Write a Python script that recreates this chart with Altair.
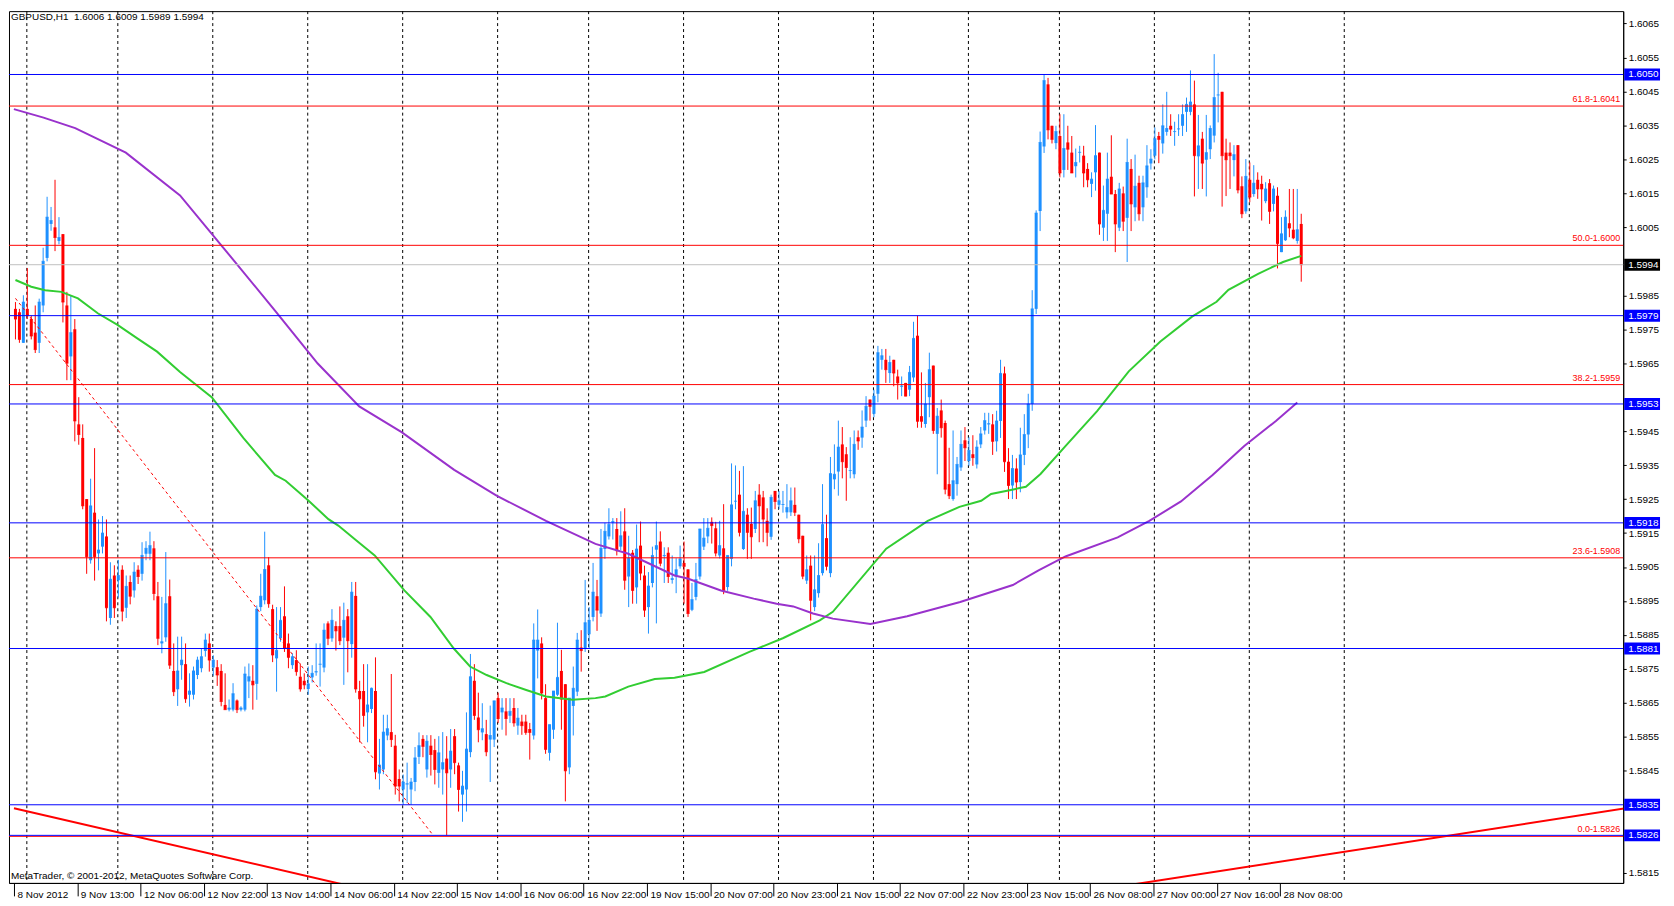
import json
import altair as alt
import pandas as pd

# ---------------- data ----------------
opens = [
    1.5981, 1.5980, 1.5971, 1.5981, 1.5978, 1.5974, 1.5971, 1.5982, 1.5996, 1.6006,
    1.6005, 1.6001, 1.6003, 1.5982, 1.5967, 1.5975, 1.5947, 1.5943, 1.5925, 1.5907,
    1.5921, 1.5909, 1.5911, 1.5914, 1.5890, 1.59025, 1.59011, 1.59042, 1.5893, 1.59006,
    1.58981, 1.59042, 1.5903, 1.59089, 1.59089, 1.59105, 1.58964, 1.58825, 1.58843, 1.58964,
    1.58744, 1.5869, 1.58761, 1.58764, 1.58674, 1.58674, 1.58732, 1.58752, 1.58803, 1.58825,
    1.58754, 1.58755, 1.58744, 1.58644, 1.5863, 1.5863, 1.58657, 1.5863, 1.5863, 1.58713,
    1.58715, 1.58706, 1.58932, 1.58952, 1.59055, 1.58926, 1.58781, 1.5884, 1.58905, 1.58825,
    1.58761, 1.58776, 1.58727, 1.58715, 1.58691, 1.58725, 1.5874, 1.58763, 1.58754, 1.58884,
    1.5884, 1.58876, 1.58876, 1.58842, 1.58905, 1.58823, 1.58965, 1.58685, 1.58685, 1.58622,
    1.58632, 1.58685, 1.58442, 1.58454, 1.58554, 1.58564, 1.58524, 1.58426, 1.58395, 1.5841,
    1.58395, 1.58417, 1.58491, 1.58544, 1.58454, 1.58524, 1.58511, 1.58444, 1.58454, 1.58486,
    1.58454, 1.58552, 1.58466, 1.5838, 1.58395, 1.58505, 1.58715, 1.58607, 1.58563, 1.58558,
    1.58542, 1.58542, 1.58664, 1.58622, 1.58625, 1.58612, 1.58635, 1.58583, 1.58595, 1.58595,
    1.58573, 1.58554, 1.58804, 1.58825, 1.58664, 1.58503, 1.58571, 1.58674, 1.58744, 1.58705,
    1.5846, 1.58641, 1.58683, 1.58813, 1.58809, 1.58852, 1.58903, 1.58964, 1.58913, 1.59103,
    1.5914, 1.59181, 1.59162, 1.5911, 1.59155, 1.59022, 1.59092, 1.5899, 1.59113, 1.59025,
    1.58932, 1.59003, 1.59101, 1.59125, 1.59082, 1.59092, 1.59012, 1.59022, 1.59052, 1.59062,
    1.59043, 1.58924, 1.58962, 1.59022, 1.5911, 1.5914, 1.59183, 1.59164, 1.59084, 1.59105,
    1.58991, 1.59074, 1.59243, 1.59263, 1.59103, 1.59204, 1.59177, 1.59162, 1.59263, 1.59255,
    1.59186, 1.59139, 1.59274, 1.59233, 1.59233, 1.59211, 1.59211, 1.59233, 1.59204, 1.59142,
    1.5901, 1.59054, 1.58932, 1.58973, 1.59032, 1.59135, 1.59032, 1.59308, 1.59331, 1.59411,
    1.59382, 1.59333, 1.59323, 1.59432, 1.59431, 1.59481, 1.59543, 1.59501, 1.5956, 1.5966,
    1.5966, 1.59621, 1.5966, 1.59611, 1.59581, 1.59592, 1.59572, 1.59608, 1.59731, 1.59494,
    1.59471, 1.5955, 1.59643, 1.59442, 1.59511, 1.59474, 1.59294, 1.5925, 1.59294, 1.59343,
    1.59423, 1.59362, 1.59382, 1.59352, 1.59411, 1.59452, 1.5947, 1.5947, 1.5942, 1.5948,
    1.5962, 1.5936, 1.5929, 1.5934, 1.5930, 1.5938, 1.5944, 1.5953, 1.5981, 1.60098,
    1.60288, 1.60471, 1.60349, 1.60298, 1.60319, 1.60219, 1.603, 1.6027, 1.6023, 1.6027,
    1.60261, 1.60222, 1.60178, 1.60212, 1.6027, 1.60049, 1.6009, 1.60199, 1.60148, 1.60049,
    1.6015, 1.60078, 1.60222, 1.60109, 1.60181, 1.60109, 1.60168, 1.60238, 1.60261, 1.60319,
    1.60297, 1.60331, 1.60349, 1.60331, 1.60339, 1.60349, 1.6039, 1.6039, 1.60412, 1.60259,
    1.60311, 1.60249, 1.6028, 1.6032, 1.60439, 1.60449, 1.6027, 1.6027, 1.60248, 1.60292,
    1.60171, 1.60097, 1.6019, 1.60148, 1.6019, 1.60178, 1.60127, 1.6018, 1.60119, 1.60143,
    1.59977, 1.60012, 1.60062, 1.60043, 1.6001, 1.6006,
]
highs = [
    1.5983, 1.5981, 1.5985, 1.5993, 1.5979, 1.5982, 1.5984, 1.5999, 1.6014, 1.6011,
    1.6019, 1.6008, 1.6003, 1.5986, 1.5985, 1.5978, 1.5955, 1.5947, 1.5925, 1.5931,
    1.5940, 1.5919, 1.5920, 1.5919, 1.59064, 1.59055, 1.59071, 1.59055, 1.59025, 1.59025,
    1.59064, 1.59055, 1.59123, 1.59126, 1.59154, 1.59126, 1.59006, 1.58962, 1.59094, 1.59013,
    1.58825, 1.58845, 1.58845, 1.58825, 1.58737, 1.58757, 1.58786, 1.5881, 1.58854, 1.58854,
    1.5879, 1.58776, 1.58764, 1.58737, 1.5866, 1.58708, 1.5866, 1.5864, 1.58757, 1.58766,
    1.58761, 1.58937, 1.5903, 1.59154, 1.59079, 1.58939, 1.58932, 1.58932, 1.58993, 1.58854,
    1.58796, 1.58805, 1.58766, 1.58737, 1.58757, 1.58761, 1.58825, 1.58825, 1.58884, 1.5889,
    1.58926, 1.5889, 1.58934, 1.58945, 1.58926, 1.59006, 1.59006, 1.58715, 1.58764, 1.58764,
    1.58695, 1.58784, 1.58544, 1.58615, 1.58615, 1.58735, 1.58556, 1.58454, 1.58439, 1.58474,
    1.58429, 1.5852, 1.58563, 1.58555, 1.58555, 1.58555, 1.58544, 1.58552, 1.58564, 1.58552,
    1.58573, 1.58573, 1.58474, 1.5845, 1.58622, 1.58794, 1.58764, 1.5868, 1.58649, 1.586,
    1.58642, 1.58656, 1.5868, 1.58664, 1.58664, 1.58664, 1.58664, 1.58635, 1.58615, 1.58615,
    1.58591, 1.58884, 1.58925, 1.58843, 1.58705, 1.58586, 1.58685, 1.58886, 1.58806, 1.58705,
    1.58664, 1.58757, 1.58856, 1.58864, 1.59012, 1.58932, 1.59062, 1.59012, 1.59162, 1.5918,
    1.59223, 1.59194, 1.59194, 1.59214, 1.59223, 1.59142, 1.591, 1.59175, 1.59184, 1.59054,
    1.59035, 1.5911, 1.59184, 1.59155, 1.59108, 1.59108, 1.59084, 1.59076, 1.59113, 1.59125,
    1.59043, 1.59003, 1.59062, 1.59162, 1.59194, 1.59194, 1.59196, 1.59183, 1.59186, 1.59235,
    1.59084, 1.59355, 1.59349, 1.59333, 1.59347, 1.59223, 1.59225, 1.59274, 1.59294, 1.59274,
    1.59223, 1.59263, 1.59274, 1.59274, 1.59274, 1.59294, 1.59284, 1.59284, 1.59204, 1.59142,
    1.59084, 1.59084, 1.59084, 1.5912, 1.59294, 1.59204, 1.59374, 1.59411, 1.59481, 1.59462,
    1.59403, 1.59432, 1.59452, 1.59452, 1.59511, 1.59553, 1.59543, 1.59572, 1.59701, 1.59692,
    1.59692, 1.59672, 1.5966, 1.59631, 1.59611, 1.59592, 1.59642, 1.59772, 1.5979, 1.59623,
    1.59592, 1.59681, 1.59643, 1.59518, 1.59543, 1.59481, 1.59401, 1.59452, 1.59374, 1.59452,
    1.59462, 1.59432, 1.59438, 1.59423, 1.59462, 1.59504, 1.59504, 1.5950, 1.5951, 1.5966,
    1.5964, 1.5940, 1.5938, 1.5937, 1.5946, 1.5950, 1.5956, 1.59865, 1.6010, 1.60332,
    1.6050, 1.6049, 1.60349, 1.60349, 1.60383, 1.60383, 1.60349, 1.60319, 1.60282, 1.6029,
    1.6029, 1.60239, 1.60212, 1.60351, 1.6027, 1.60173, 1.6027, 1.60321, 1.6016, 1.60181,
    1.6017, 1.60311, 1.60251, 1.60264, 1.60202, 1.60202, 1.60292, 1.6028, 1.60344, 1.60331,
    1.60412, 1.60449, 1.60383, 1.60361, 1.60383, 1.60412, 1.60432, 1.60512, 1.60482, 1.60381,
    1.60331, 1.60381, 1.6035, 1.6056, 1.60505, 1.60449, 1.60311, 1.603, 1.60292, 1.60292,
    1.602, 1.60251, 1.60241, 1.60233, 1.60212, 1.60202, 1.60183, 1.60192, 1.60173, 1.60168,
    1.6008, 1.601, 1.60163, 1.60163, 1.60163, 1.6009,
]
lows = [
    1.5972, 1.5971, 1.5971, 1.5978, 1.5972, 1.5968, 1.5968, 1.5980, 1.5995, 1.6004,
    1.5998, 1.6000, 1.5977, 1.5960, 1.5960, 1.5942, 1.5941, 1.5922, 1.5903, 1.5906,
    1.5901, 1.5904, 1.5909, 1.5889, 1.5888, 1.5890, 1.5896, 1.5889, 1.5890, 1.5894,
    1.5896, 1.5900, 1.5901, 1.5907, 1.5907, 1.58952, 1.5882, 1.58796, 1.5883, 1.5875,
    1.5867, 1.58641, 1.58718, 1.5865, 1.58639, 1.5866, 1.5872, 1.5874, 1.58786, 1.58742,
    1.5873, 1.5870, 1.5864, 1.5863, 1.58625, 1.58625, 1.5862, 1.58625, 1.58625, 1.58664,
    1.5863, 1.58659, 1.5892, 1.5894, 1.5893, 1.5877, 1.58683, 1.5883, 1.5880, 1.58752,
    1.5875, 1.5873, 1.58683, 1.5869, 1.58674, 1.5871, 1.5873, 1.58698, 1.5874, 1.5882,
    1.5883, 1.58804, 1.5882, 1.58703, 1.5874, 1.58783, 1.5868, 1.58534, 1.5858, 1.58534,
    1.5862, 1.58425, 1.58395, 1.5844, 1.5854, 1.5852, 1.5838, 1.5836, 1.5835, 1.58355,
    1.5835, 1.5839, 1.5847, 1.5849, 1.5843, 1.58436, 1.5841, 1.5840, 1.5838, 1.5826,
    1.5840, 1.5844, 1.5833, 1.5830, 1.5833, 1.5849, 1.5860, 1.58534, 1.5854, 1.58493,
    1.58417, 1.5852, 1.58591, 1.58571, 1.58554, 1.58591, 1.5858, 1.58556, 1.58556, 1.58556,
    1.58483, 1.58542, 1.58722, 1.5866, 1.5850, 1.5848, 1.58544, 1.5867, 1.58571, 1.5836,
    1.5844, 1.58554, 1.5867, 1.58742, 1.5880, 1.5881, 1.5889, 1.58862, 1.58903, 1.59074,
    1.59131, 1.59131, 1.59084, 1.5910, 1.58983, 1.58932, 1.58942, 1.58942, 1.59011, 1.58903,
    1.58854, 1.5899, 1.58884, 1.59052, 1.59003, 1.59003, 1.59001, 1.58973, 1.59045, 1.58942,
    1.58903, 1.5892, 1.58952, 1.59013, 1.5910, 1.5912, 1.59119, 1.59081, 1.59075, 1.5897,
    1.5898, 1.59052, 1.5922, 1.5914, 1.5910, 1.59074, 1.59074, 1.5915, 1.59123, 1.59123,
    1.59111, 1.5913, 1.5922, 1.5922, 1.5921, 1.59193, 1.5920, 1.5920, 1.5912, 1.59014,
    1.5900, 1.58893, 1.5892, 1.5896, 1.59025, 1.5904, 1.5902, 1.59279, 1.5926, 1.59311,
    1.59245, 1.59311, 1.59311, 1.59395, 1.59401, 1.59462, 1.59481, 1.59491, 1.59535, 1.59631,
    1.59592, 1.59592, 1.59582, 1.59543, 1.59553, 1.59553, 1.59553, 1.59595, 1.5946, 1.5946,
    1.5946, 1.59491, 1.59442, 1.59323, 1.59431, 1.59264, 1.5925, 1.59245, 1.5926, 1.59333,
    1.59362, 1.59348, 1.59348, 1.5934, 1.5940, 1.5944, 1.59442, 1.5938, 1.5939, 1.5943,
    1.5933, 1.5925, 1.5925, 1.5925, 1.5927, 1.5935, 1.5940, 1.5951, 1.59795, 1.60039,
    1.60269, 1.60309, 1.60297, 1.6028, 1.60197, 1.60197, 1.60219, 1.6021, 1.60197, 1.60241,
    1.60168, 1.60168, 1.60139, 1.60158, 1.60028, 1.6001, 1.6001, 1.60148, 1.59977, 1.60039,
    1.60039, 1.59948, 1.60039, 1.60068, 1.6007, 1.60068, 1.60137, 1.6022, 1.6025, 1.60239,
    1.60267, 1.6032, 1.60319, 1.6029, 1.60319, 1.60319, 1.60331, 1.6038, 1.60141, 1.60163,
    1.60163, 1.60141, 1.60251, 1.603, 1.60359, 1.60111, 1.60142, 1.60163, 1.602, 1.6015,
    1.60077, 1.6009, 1.60124, 1.6014, 1.60134, 1.6007, 1.60121, 1.6006, 1.60097, 1.59929,
    1.59977, 1.6001, 1.60021, 1.60015, 1.60002, 1.5989,
]
closes = [
    1.5978, 1.5972, 1.5983, 1.5979, 1.5973, 1.5969, 1.5983, 1.5995, 1.6008, 1.6007,
    1.6002, 1.6002, 1.5983, 1.5965, 1.5974, 1.5948, 1.5944, 1.5923, 1.5908, 1.5923,
    1.5908, 1.5910, 1.5915, 1.5893, 1.59014, 1.5893, 1.59025, 1.5892, 1.58993, 1.58964,
    1.59035, 1.59022, 1.59084, 1.59105, 1.59113, 1.58972, 1.5884, 1.5883, 1.58942, 1.58761,
    1.58683, 1.58744, 1.58776, 1.58662, 1.58685, 1.58744, 1.58776, 1.58786, 1.58835, 1.58776,
    1.58776, 1.58732, 1.58654, 1.5863, 1.58635, 1.58677, 1.5863, 1.58635, 1.58735, 1.58727,
    1.58703, 1.58926, 1.58964, 1.59043, 1.58942, 1.58791, 1.58805, 1.58893, 1.5881, 1.58784,
    1.58786, 1.58742, 1.58691, 1.58703, 1.58706, 1.58737, 1.58742, 1.58764, 1.58864, 1.5884,
    1.58893, 1.58862, 1.58833, 1.58893, 1.58833, 1.58976, 1.58691, 1.58662, 1.58613, 1.58644,
    1.58693, 1.58447, 1.58467, 1.58564, 1.58574, 1.58542, 1.58405, 1.58405, 1.58417, 1.58412,
    1.58417, 1.58488, 1.58524, 1.58522, 1.58537, 1.58498, 1.58454, 1.58503, 1.58474, 1.58444,
    1.58508, 1.58474, 1.58395, 1.58405, 1.58514, 1.58727, 1.58613, 1.58571, 1.58574, 1.58506,
    1.58554, 1.58656, 1.58604, 1.58635, 1.58604, 1.58625, 1.58591, 1.58605, 1.58583, 1.58563,
    1.58563, 1.58835, 1.58835, 1.58679, 1.58513, 1.58586, 1.58685, 1.58725, 1.58661, 1.5845,
    1.58664, 1.58693, 1.58835, 1.58804, 1.58886, 1.58893, 1.58976, 1.58923, 1.59105, 1.59155,
    1.59175, 1.59184, 1.59098, 1.59142, 1.59011, 1.59076, 1.58981, 1.59103, 1.59032, 1.58923,
    1.58994, 1.59084, 1.59113, 1.59061, 1.59084, 1.59022, 1.59016, 1.59042, 1.59074, 1.59052,
    1.58913, 1.58954, 1.59013, 1.59162, 1.59135, 1.59164, 1.59172, 1.59091, 1.59113, 1.58981,
    1.59084, 1.59233, 1.59244, 1.59152, 1.59214, 1.59152, 1.59139, 1.59245, 1.5923, 1.59191,
    1.59152, 1.59255, 1.59243, 1.59245, 1.59234, 1.59225, 1.59245, 1.59211, 1.59133, 1.59023,
    1.59042, 1.58952, 1.58983, 1.59025, 1.59175, 1.59052, 1.59325, 1.59323, 1.59403, 1.5936,
    1.59343, 1.59334, 1.59411, 1.59421, 1.59462, 1.59523, 1.59523, 1.59553, 1.59681, 1.59672,
    1.59631, 1.59652, 1.59621, 1.59592, 1.59583, 1.59553, 1.59623, 1.59723, 1.59479, 1.59479,
    1.5953, 1.59631, 1.59452, 1.59494, 1.5946, 1.59279, 1.5926, 1.59304, 1.59352, 1.59411,
    1.59401, 1.59393, 1.59372, 1.59403, 1.59442, 1.59481, 1.59472, 1.5942, 1.5948, 1.5962,
    1.5936, 1.5929, 1.5934, 1.5930, 1.5938, 1.5944, 1.5953, 1.5981, 1.60092, 1.6030,
    1.60482, 1.60337, 1.60309, 1.60332, 1.6021, 1.60282, 1.6028, 1.6021, 1.60241, 1.60271,
    1.6021, 1.6019, 1.60192, 1.60261, 1.6006, 1.601, 1.60192, 1.60148, 1.6006, 1.60163,
    1.60068, 1.60241, 1.60119, 1.60171, 1.6009, 1.60181, 1.60231, 1.60251, 1.60311, 1.60309,
    1.60349, 1.60341, 1.60339, 1.60332, 1.6034, 1.60382, 1.60412, 1.60419, 1.60261, 1.6029,
    1.60239, 1.6027, 1.60341, 1.60432, 1.6044, 1.60261, 1.60249, 1.60261, 1.60264, 1.6016,
    1.6009, 1.602, 1.60139, 1.6018, 1.60163, 1.60163, 1.60163, 1.60097, 1.60163, 1.60002,
    1.60031, 1.6008, 1.60048, 1.60019, 1.60043, 1.5994,
]

date_labels = [
    "8 Nov 2012", "9 Nov 13:00", "12 Nov 06:00", "12 Nov 22:00", "13 Nov 14:00",
    "14 Nov 06:00", "14 Nov 22:00", "15 Nov 14:00", "16 Nov 06:00", "16 Nov 22:00",
    "19 Nov 15:00", "20 Nov 07:00", "20 Nov 23:00", "21 Nov 15:00", "22 Nov 07:00",
    "22 Nov 23:00", "23 Nov 15:00", "26 Nov 08:00", "27 Nov 00:00", "27 Nov 16:00",
    "28 Nov 08:00",
]
day_start_bars = [3, 26, 50, 74, 98, 122, 145, 169, 193, 217, 241, 264, 288, 312, 336]

green_bars = [0, 4, 7.5, 11.6, 15.8, 20.8, 25.8, 30.8, 35.8, 41.6, 49.6, 57.6, 65.6, 68.3,
              74.1, 79.1, 81.6, 86.1, 90.8, 98.3, 104.9, 110.8, 114.9, 119.1, 124.1, 129.1,
              134.1, 140.8, 146.6, 149.1, 154.9, 161.6, 166.6, 174.1, 185.5, 194.1, 203.3,
              206.6, 220.1, 230.6, 238.6, 244.1, 246.6, 251.6, 255.4, 259.1, 265.4, 273.4,
              281.4, 289.4, 297.4, 303.6, 306.6, 314.1, 320.4, 325]
green_vals = [1.59895, 1.59875, 1.59865, 1.5986, 1.59841, 1.59797, 1.59763, 1.59723, 1.59684,
              1.59624, 1.5955, 1.5943, 1.59321, 1.59304, 1.59245, 1.59191, 1.59172, 1.59129,
              1.59084, 1.58981, 1.58903, 1.5881, 1.58757, 1.58732, 1.58708, 1.58688, 1.58669,
              1.58659, 1.58664, 1.58669, 1.58698, 1.5872, 1.58724, 1.58741, 1.588, 1.58841,
              1.58893, 1.58918, 1.59104, 1.59186, 1.59227, 1.59245, 1.59265, 1.59277, 1.59286,
              1.59324, 1.59406, 1.59509, 1.59626, 1.59714, 1.59787, 1.59831, 1.59866, 1.59913,
              1.59948, 1.59966]
purple_bars = [-0.4, 7.1, 15.1, 27.9, 41.6, 52.4, 65.6, 76.4, 86.9, 97.6, 110.9, 121.6, 134.1,
               146.6, 154.9, 166.6, 169.9, 178.3, 186.6, 192.4, 196.6, 201.6, 206.6, 216.1,
               225.4, 238.8, 252.1, 258.6, 265.4, 278.6, 286.6, 294.6, 302.6, 310.6, 318.6, 324]
purple_vals = [1.60398, 1.60373, 1.60342, 1.6027, 1.60144, 1.59992, 1.59805, 1.59649, 1.59523,
               1.59447, 1.59336, 1.5926, 1.59186, 1.59118, 1.59089, 1.59025, 1.59016, 1.58981,
               1.58957, 1.58942, 1.58934, 1.58913, 1.58898, 1.58882, 1.58905, 1.58947, 1.58997,
               1.5904, 1.59081, 1.59137, 1.59186, 1.59243, 1.59321, 1.59406, 1.5948, 1.59534]

blue_levels = [1.6050, 1.5979, 1.5953, 1.5918, 1.5881, 1.5835, 1.5826]
fib_levels = [1.6041, 1.6000, 1.5959, 1.5908, 1.5826]
fib_names = ["61.8", "50.0", "38.2", "23.6", "0.0"]
bid_price = 1.5994

fib_trend_bars = [0, 105.6]
fib_trend_vals = [1.59841, 1.5826]
down_line_bars = [-0.375, 100]
down_line_vals = [1.5834, 1.58069]
up_line_bars = [270, 410]
up_line_vals = [1.58093, 1.58345]

all_price_ticks = [round(1.5815 + 0.001 * k, 4) for k in range(26)]

title_text = "GBPUSD,H1\u00a0\u00a01.6006 1.6009 1.5989 1.5994"
copy_text = "MetaTrader, \u00a9 2001-2012, MetaQuotes Software Corp."

# ---------------- layout ----------------
W, H = 1622, 876
X_DOM = [-0.375, -0.375 + W / 4.0]
Y_DOM = [1.581199, 1.606865]
FONT = "Liberation Sans"
BLUE, RED = "#1E90FF", "#FF0000"

# axis labels that sit under a price box are not drawn (as in the terminal)
box_levels = blue_levels + [bid_price]
price_ticks = [t for t in all_price_ticks
               if all(abs(t - b) > 0.00025 for b in box_levels)]

xs = alt.Scale(domain=X_DOM, nice=False, zero=False)
ys = alt.Scale(domain=Y_DOM, nice=False, zero=False)

candles = pd.DataFrame({"i": list(range(len(opens))), "open": opens, "high": highs,
                        "low": lows, "close": closes})
candles["col"] = [BLUE if c >= o else RED for o, c in zip(opens, closes)]

label_expr = json.dumps(date_labels) + "[round((datum.value + 0.375) / 16)]"
x_axis = alt.Axis(values=[16 * k - 0.375 for k in range(len(date_labels))],
                  labelExpr=label_expr, title=None, grid=False, orient="bottom",
                  tickSize=13, tickColor="black", domainColor="black", labelAlign="left",
                  labelBaseline="top", labelPadding=-6, labelOffset=3, labelOverlap=False,
                  labelFlush=False, labelBound=False, labelFont=FONT, labelFontSize=10,
                  labelColor="black")
y_axis = alt.Axis(values=price_ticks, format=".4f", title=None, grid=False, orient="right",
                  tickSize=3, tickColor="black", domainColor="black", labelPadding=2,
                  labelOverlap=False, labelFlush=False, labelBound=False, labelFont=FONT,
                  labelFontSize=10, labelColor="black", labelAlign="left")


def X(field):
    return alt.X(field, scale=xs, axis=x_axis)


def Y(field):
    return alt.Y(field, scale=ys, axis=y_axis)


# vertical dashed grid (day starts)
grid = alt.Chart(pd.DataFrame({"b": [b - 0.125 for b in day_start_bars]})).mark_rule(
    color="black", strokeDash=[3, 3], strokeWidth=1
).encode(x=X("b:Q"))

# candles
wicks = alt.Chart(candles).mark_rule(strokeWidth=1).encode(
    x=X("i:Q"), y=Y("low:Q"), y2="high:Q", color=alt.Color("col:N", scale=None))
bodies = alt.Chart(candles).mark_bar(size=3).encode(
    x=X("i:Q"), y=Y("open:Q"), y2="close:Q", color=alt.Color("col:N", scale=None))
dojis = alt.Chart(candles).mark_tick(orient="horizontal", size=3, thickness=1).encode(
    x=X("i:Q"), y=Y("close:Q"), color=alt.Color("col:N", scale=None))

# moving averages
green = alt.Chart(pd.DataFrame({"b": green_bars, "v": green_vals})).mark_line(
    color="#32CD32", strokeWidth=2, clip=True).encode(x=X("b:Q"), y=Y("v:Q"))
purple = alt.Chart(pd.DataFrame({"b": purple_bars, "v": purple_vals})).mark_line(
    color="#9932CC", strokeWidth=2, clip=True).encode(x=X("b:Q"), y=Y("v:Q"))

# trend lines
fib_trend = alt.Chart(pd.DataFrame({"b": fib_trend_bars, "v": fib_trend_vals})).mark_line(
    color=RED, strokeWidth=1, strokeDash=[3, 3], clip=True).encode(x=X("b:Q"), y=Y("v:Q"))
down_line = alt.Chart(pd.DataFrame({"b": down_line_bars, "v": down_line_vals})).mark_line(
    color=RED, strokeWidth=2, clip=True).encode(x=X("b:Q"), y=Y("v:Q"))
up_line = alt.Chart(pd.DataFrame({"b": up_line_bars, "v": up_line_vals})).mark_line(
    color=RED, strokeWidth=2, clip=True).encode(x=X("b:Q"), y=Y("v:Q"))

# horizontal levels
fib_df = pd.DataFrame({"level": fib_levels, "name": fib_names})
fib_df["label"] = [f"{n}-{lv:.4f}" for n, lv in zip(fib_names, fib_levels)]
fib_rules = alt.Chart(fib_df).mark_rule(color=RED, strokeWidth=1, yOffset=1).encode(
    y=Y("level:Q"))
blue_df = pd.DataFrame({"level": blue_levels})
blue_df["label"] = [f"{lv:.4f}" for lv in blue_levels]
blue_rules = alt.Chart(blue_df).mark_rule(color="#0000FF", strokeWidth=1).encode(
    y=Y("level:Q"))
bid_df = pd.DataFrame({"level": [bid_price], "label": [f"{bid_price:.4f}"]})
bid_rule = alt.Chart(bid_df).mark_rule(color="#C0C0C0", strokeWidth=1).encode(
    y=Y("level:Q"))

fib_text = alt.Chart(fib_df).mark_text(
    align="right", baseline="bottom", dy=-1, font=FONT, fontSize=9, color=RED
).encode(x=alt.value(W - 3), y=Y("level:Q"), text="label:N")

# price boxes on the right axis
box_df = pd.concat([blue_df.assign(bg="#0000FF"), bid_df.assign(bg="#000000")],
                   ignore_index=True)
boxes = alt.Chart(box_df).mark_rule(strokeWidth=12, strokeCap="butt").encode(
    x=alt.value(W + 1), x2=alt.value(W + 37), y=Y("level:Q"),
    color=alt.Color("bg:N", scale=None))
box_text = alt.Chart(box_df).mark_text(
    align="left", baseline="middle", font=FONT, fontSize=10, color="white"
).encode(x=alt.value(W + 5), y=Y("level:Q"), text="label:N")

# corner texts
title = alt.Chart(pd.DataFrame({"t": [title_text]})).mark_text(
    align="left", baseline="top", font=FONT, fontSize=10, color="black"
).encode(x=alt.value(2), y=alt.value(1), text="t:N")
copyright_ = alt.Chart(pd.DataFrame({"t": [copy_text]})).mark_text(
    align="left", baseline="bottom", font=FONT, fontSize=10, color="black"
).encode(x=alt.value(2), y=alt.value(H - 2), text="t:N")

chart = alt.layer(
    grid, wicks, bodies, dojis, green, purple,
    fib_trend, down_line, up_line,
    fib_rules, bid_rule, blue_rules, fib_text,
    boxes, box_text, title, copyright_,
).properties(
    width=W, height=H,
    padding={"left": 0, "top": 0, "right": 0, "bottom": 0},
    background="white",
).configure_view(stroke="black", strokeWidth=1)

chart.save("out.html", embed_options={"renderer": "svg", "actions": False})
